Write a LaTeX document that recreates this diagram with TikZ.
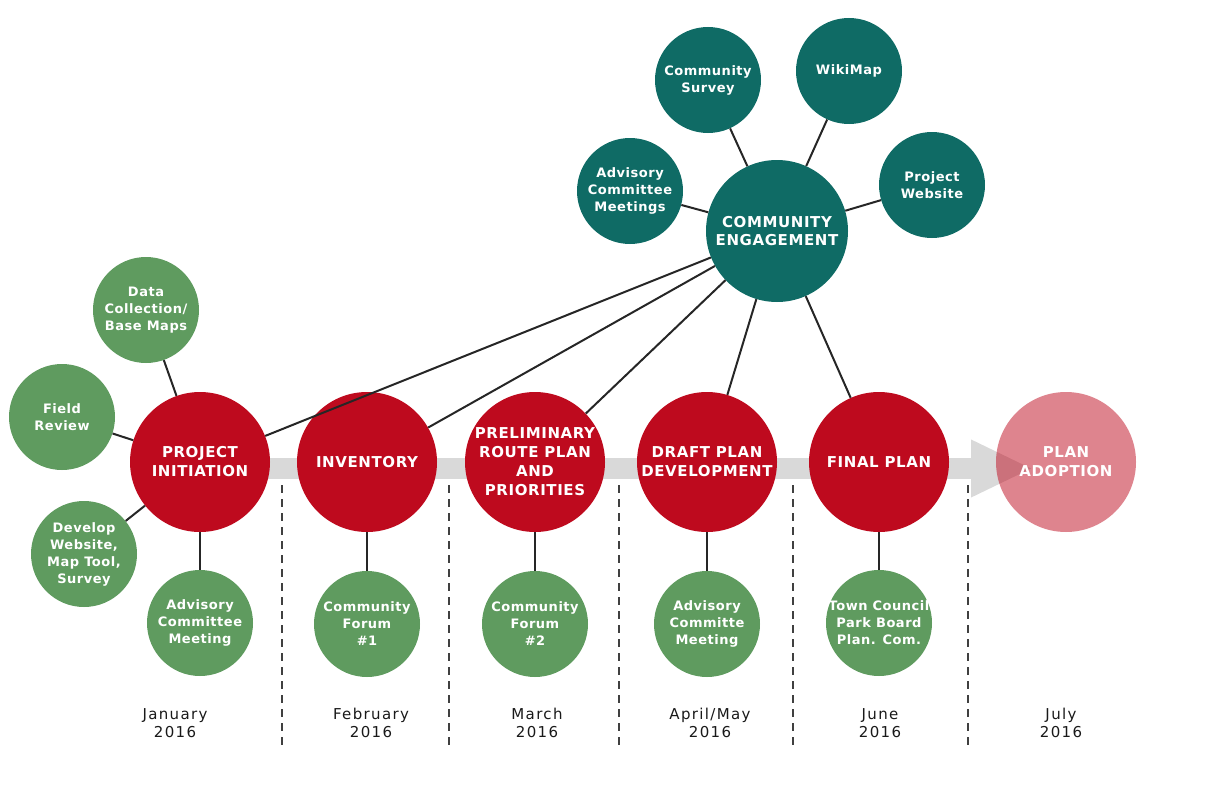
\documentclass[tikz,border=0pt]{standalone}
\usepackage{fontspec}
\setmainfont{DejaVu Sans}
\newfontfamily\circfont[LetterSpace=4]{DejaVu Sans}
\newfontfamily\monthfont[LetterSpace=9]{DejaVu Sans}
\usepackage{tikz}
\usetikzlibrary{arrows.meta,backgrounds}
\definecolor{phase}{HTML}{BE0A1E}
\definecolor{task}{HTML}{5F9B5F}
\definecolor{engage}{HTML}{0F6B65}
\definecolor{band}{HTML}{D9D9D9}

\begin{document}
\begin{tikzpicture}[x=1pt,y=-1pt,
  bubble/.style={circle,inner sep=0pt,text=white,align=center,
                 font=\circfont\bfseries\fontsize{13}{17}\selectfont},
  phasebox/.style={bubble,fill=phase,minimum size=140pt,
                   font=\circfont\bfseries\fontsize{15}{19}\selectfont},
  taskbox/.style={bubble,fill=task,minimum size=106pt},
  engbox/.style={bubble,fill=engage,minimum size=106pt},
  hub/.style={engbox,minimum size=142pt,
              font=\circfont\bfseries\fontsize{15}{18}\selectfont},
  link/.style={line width=2pt,black!85},
  split/.style={line width=1.3pt,black!75,dash pattern=on 8pt off 6pt},
  month/.style={font=\monthfont\fontsize{15}{18}\selectfont,align=center,
                text=black!90}]
\useasboundingbox (0,0) rectangle (1224,792);
\node[phasebox] (init) at (200,462) {PROJECT\\INITIATION};
\node[phasebox] (inventory) at (367,462) {INVENTORY};
\node[phasebox] (prelim) at (535,462) {PRELIMINARY\\ROUTE PLAN\\AND\\PRIORITIES};
\node[phasebox] (draft) at (707,462) {DRAFT PLAN\\DEVELOPMENT};
\node[phasebox] (final) at (879,462) {FINAL PLAN};
\node[phasebox,fill opacity=0.5,text opacity=1] (adopt) at (1066,462) {PLAN\\ADOPTION};
\node[taskbox] (data) at (146,310) {Data\\Collection/\\Base Maps};
\node[taskbox] (field) at (62,417) {Field\\Review};
\node[taskbox] (web) at (84,554) {Develop\\Website,\\Map Tool,\\Survey};
\node[taskbox] (advjan) at (200,623) {Advisory\\Committee\\Meeting};
\node[taskbox] (forum1) at (367,624) {Community\\Forum\\\#1};
\node[taskbox] (forum2) at (535,624) {Community\\Forum\\\#2};
\node[taskbox] (advmay) at (707,624) {Advisory\\Committe\\Meeting};
\node[taskbox,inner sep=-6pt] (council) at (879,623) {Town Council\\Park Board\\Plan. Com.};
\node[hub] (engagement) at (777,231) {COMMUNITY\\ENGAGEMENT};
\node[engbox] (survey) at (708,80) {Community\\Survey};
\node[engbox] (wiki) at (849,71) {WikiMap};
\node[engbox] (advise) at (630,191) {Advisory\\Committee\\Meetings};
\node[engbox] (site) at (932,185) {Project\\Website};
\node[month] (jan) at (175,723) {January\\2016};
\node[month] (feb) at (371,723) {February\\2016};
\node[month] (mar) at (537,723) {March\\2016};
\node[month] (apr) at (710,723) {April/May\\2016};
\node[month] (jun) at (880,723) {June\\2016};
\node[month] (jul) at (1061,723) {July\\2016};
\begin{scope}[on background layer]
\draw[band,line width=21pt,-{Triangle[length=62pt,width=53pt]}]
  ([yshift=-6.5pt]init.center) -- ([xshift=-33pt,yshift=-6.5pt]adopt.center);
\end{scope}
\foreach \x in {282,449,619,793,968}
  \draw[split] (\x,485) -- (\x,748);
\foreach \n in {data,field,web,advjan}
  \draw[link] (init) -- (\n);
\draw[link] (inventory) -- (forum1);
\draw[link] (prelim) -- (forum2);
\draw[link] (draft) -- (advmay);
\draw[link] (final) -- (council);
\foreach \n in {survey,wiki,advise,site,init,inventory,prelim,draft,final}
  \draw[link] (engagement) -- (\n);
\end{tikzpicture}
\end{document}
